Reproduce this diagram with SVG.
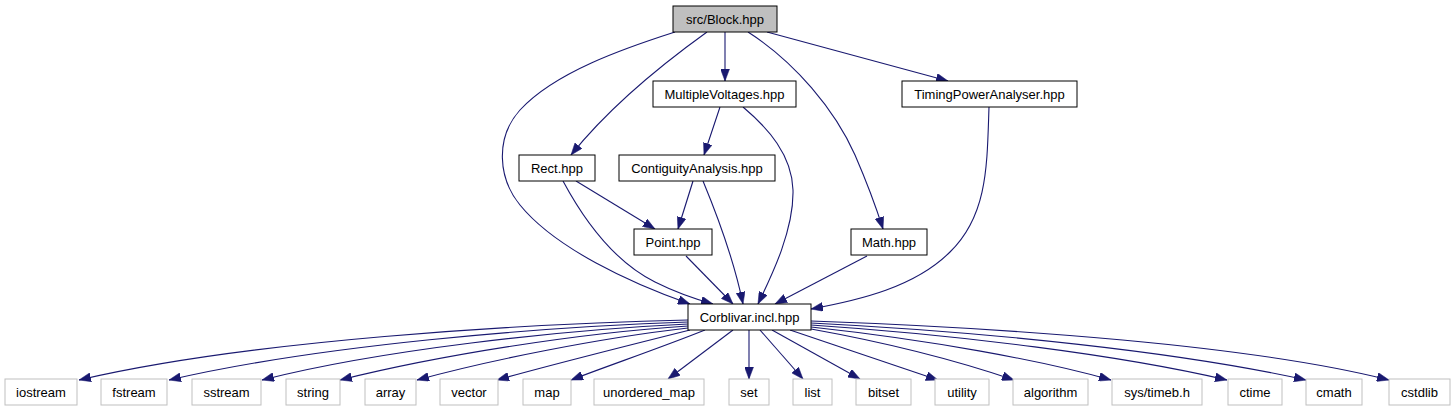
<svg xmlns="http://www.w3.org/2000/svg" width="1455" height="411" viewBox="0 0 1455 411">
<style>
.n rect{fill:#ffffff;stroke:#000000;stroke-width:1}
.lib rect{fill:#ffffff;stroke:#bfbfbf;stroke-width:1}
.root rect{fill:#bfbfbf;stroke:#000000;stroke-width:1}
text{font-family:"Liberation Sans",Arial,sans-serif;font-size:13px;fill:#000000;text-anchor:middle}
#edges path{fill:none;stroke:#191970;stroke-width:1.1;marker-end:url(#arr)}
</style>
<defs>
<marker id="arr" markerUnits="userSpaceOnUse" markerWidth="12" markerHeight="9" viewBox="0 0 12 9" refX="12" refY="4.5" orient="auto">
<path d="M0,0 L12,4.5 L0,9 z" fill="#191970" stroke="#191970" stroke-width="0.5"/>
</marker>
</defs>
<rect width="1455" height="411" fill="#ffffff"/>
<g id="edges">
<path d="M675,32 C625,48 555,72 520,110 C495,138 498,178 520,205 C555,248 630,283 690,304"/>
<path d="M707,32 C675,55 615,100 571,155"/>
<path d="M725,32 L725,81"/>
<path d="M748,32 C795,62 835,110 855,155 C868,185 877,210 883,229"/>
<path d="M767,32 L948,81"/>
<path d="M720,107 L704,155"/>
<path d="M743,107 C768,128 792,155 793,190 C794,230 772,275 758,304"/>
<path d="M576,181 L655,229"/>
<path d="M563,181 C585,222 615,262 655,282 C675,292 695,299 713,304"/>
<path d="M693,181 L678,229"/>
<path d="M703,181 C720,222 735,265 743,304"/>
<path d="M686,256 L733,304"/>
<path d="M867,256 L775,304"/>
<path d="M989,107 C987,165 988,215 950,252 C915,287 860,300 811,309"/>
<path d="M688,320 C520,324 250,340 79,380"/>
<path d="M688,322 C540,327 320,345 169,380"/>
<path d="M688,324 C560,330 380,350 262,380"/>
<path d="M688,326 C580,333 440,355 340,380"/>
<path d="M688,328 C600,338 490,360 417,380"/>
<path d="M690,330 C630,345 550,365 497,380"/>
<path d="M705,330 C660,348 610,365 571,380"/>
<path d="M733,330 L668,379"/>
<path d="M749,330 L749,379"/>
<path d="M760,330 L803,379"/>
<path d="M772,330 L860,379"/>
<path d="M790,330 L938,380"/>
<path d="M811,329 C900,345 970,365 1014,380"/>
<path d="M811,327 C930,340 1040,360 1111,380"/>
<path d="M811,325 C960,335 1120,355 1227,380"/>
<path d="M811,323 C990,332 1180,352 1306,380"/>
<path d="M811,321 C1010,328 1250,345 1389,380"/>
</g>
<g id="node-block" class="root"><rect x="673" y="6" width="104" height="26"/><text x="725" y="24">src/Block.hpp</text></g>
<g id="node-mv" class="n"><rect x="653" y="81" width="143" height="26"/><text x="724.5" y="99">MultipleVoltages.hpp</text></g>
<g id="node-timing" class="n"><rect x="902" y="81" width="175" height="26"/><text x="989.5" y="99">TimingPowerAnalyser.hpp</text></g>
<g id="node-rect" class="n"><rect x="519" y="155" width="76" height="26"/><text x="557" y="173">Rect.hpp</text></g>
<g id="node-contig" class="n"><rect x="619" y="155" width="156" height="26"/><text x="697" y="173">ContiguityAnalysis.hpp</text></g>
<g id="node-point" class="n"><rect x="634" y="229" width="78" height="26"/><text x="673" y="247">Point.hpp</text></g>
<g id="node-math" class="n"><rect x="851" y="229" width="76" height="26"/><text x="889" y="247">Math.hpp</text></g>
<g id="node-corblivar" class="n"><rect x="688" y="304" width="123" height="26"/><text x="749.5" y="322">Corblivar.incl.hpp</text></g>
<g id="node-iostream" class="lib"><rect x="5" y="379" width="72" height="26"/><text x="41" y="397">iostream</text></g>
<g id="node-fstream" class="lib"><rect x="101" y="379" width="66" height="26"/><text x="134" y="397">fstream</text></g>
<g id="node-sstream" class="lib"><rect x="192" y="379" width="69" height="26"/><text x="226.5" y="397">sstream</text></g>
<g id="node-string" class="lib"><rect x="286" y="379" width="54" height="26"/><text x="313" y="397">string</text></g>
<g id="node-array" class="lib"><rect x="365" y="379" width="51" height="26"/><text x="390.5" y="397">array</text></g>
<g id="node-vector" class="lib"><rect x="440" y="379" width="58" height="26"/><text x="469" y="397">vector</text></g>
<g id="node-map" class="lib"><rect x="523" y="379" width="48" height="26"/><text x="547" y="397">map</text></g>
<g id="node-unordered_map" class="lib"><rect x="594" y="379" width="110" height="26"/><text x="649" y="397">unordered_map</text></g>
<g id="node-set" class="lib"><rect x="729" y="379" width="40" height="26"/><text x="749" y="397">set</text></g>
<g id="node-list" class="lib"><rect x="793" y="379" width="39" height="26"/><text x="812.5" y="397">list</text></g>
<g id="node-bitset" class="lib"><rect x="856" y="379" width="55" height="26"/><text x="883.5" y="397">bitset</text></g>
<g id="node-utility" class="lib"><rect x="935" y="379" width="54" height="26"/><text x="962" y="397">utility</text></g>
<g id="node-algorithm" class="lib"><rect x="1013" y="379" width="75" height="26"/><text x="1050.5" y="397">algorithm</text></g>
<g id="node-timeb" class="lib"><rect x="1112" y="379" width="90" height="26"/><text x="1157" y="397">sys/timeb.h</text></g>
<g id="node-ctime" class="lib"><rect x="1228" y="379" width="54" height="26"/><text x="1255" y="397">ctime</text></g>
<g id="node-cmath" class="lib"><rect x="1306" y="379" width="56" height="26"/><text x="1334" y="397">cmath</text></g>
<g id="node-cstdlib" class="lib"><rect x="1389" y="379" width="61" height="26"/><text x="1419.5" y="397">cstdlib</text></g>
</svg>
